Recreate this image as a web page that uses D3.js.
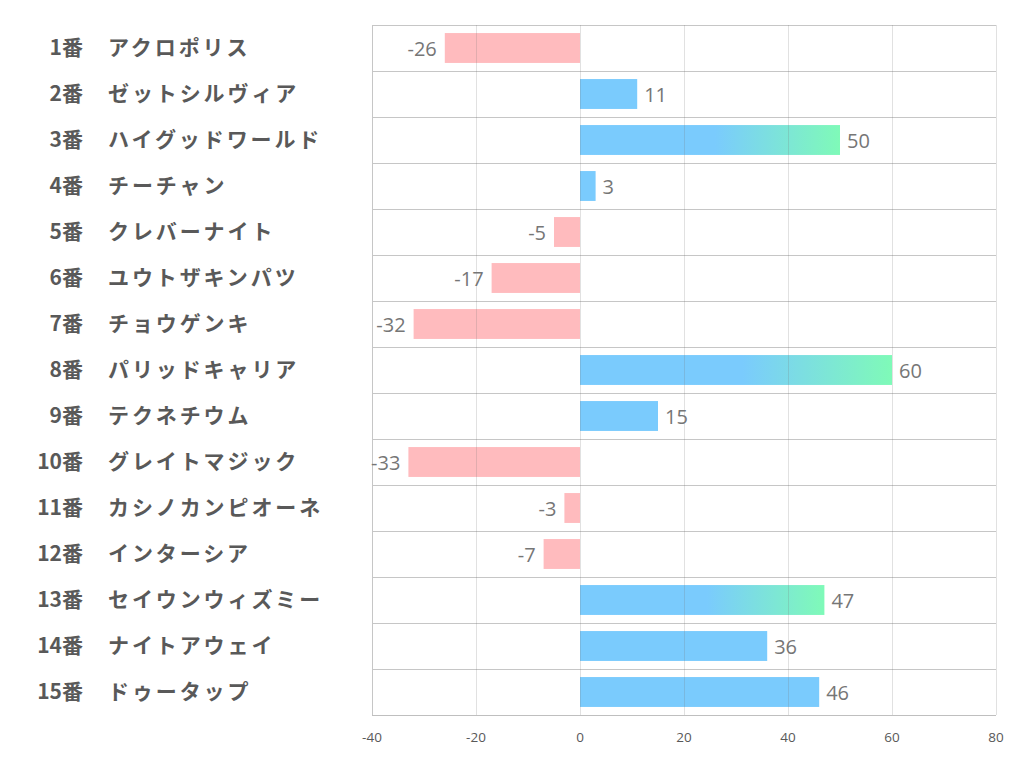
<!DOCTYPE html>
<html><head><meta charset="utf-8">
<script src="https://cdn.jsdelivr.net/npm/d3@7"></script>
<style>body{margin:0;background:#fff;}svg{display:block;}</style>
</head><body>
<script>
const numbers = ["1番","2番","3番","4番","5番","6番","7番","8番","9番","10番","11番","12番","13番","14番","15番"];
const names = ["アクロポリス","ゼットシルヴィア","ハイグッドワールド","チーチャン","クレバーナイト","ユウトザキンパツ","チョウゲンキ","パリッドキャリア","テクネチウム","グレイトマジック","カシノカンピオーネ","インターシア","セイウンウィズミー","ナイトアウェイ","ドゥータップ"];
const values = [-26,11,50,3,-5,-17,-32,60,15,-33,-3,-7,47,36,46];
const ticks = [-40,-20,0,20,40,60,80];
const gradThreshold = 47;

const W=1022,H=782;
const svg=d3.select("body").append("svg").attr("width",W).attr("height",H);
const x=d3.scaleLinear().domain([-40,80]).range([372,996]);
const y=d3.scaleBand().domain(d3.range(values.length)).range([25,715]).paddingInner(0.35).paddingOuter(0.175);
const rowStep=(715-25)/values.length;

const defs=svg.append("defs");
const lg=defs.append("linearGradient").attr("id","gr").attr("x1","0").attr("x2","1").attr("y1","0").attr("y2","0");
lg.append("stop").attr("offset","0.52").attr("stop-color","#7acbfd");
lg.append("stop").attr("offset","1").attr("stop-color","#7ffab8");

// horizontal grid
svg.append("g").selectAll("line").data(d3.range(values.length+1)).join("line")
 .attr("x1",372).attr("x2",996)
 .attr("y1",i=>25+i*rowStep+0.5).attr("y2",i=>25+i*rowStep+0.5)
 .attr("stroke","#c6c6c6").attr("stroke-width",1);

// bars
svg.append("g").selectAll("rect").data(values).join("rect")
 .attr("x",d=>x(Math.min(0,d)))
 .attr("width",d=>Math.abs(x(d)-x(0)))
 .attr("y",(d,i)=>y(i)).attr("height",y.bandwidth())
 .attr("fill",d=>d<0?"#ffbbbe":(d>=gradThreshold?"url(#gr)":"#7acbfd"));

// vertical grid (drawn faintly over bars)
svg.append("g").selectAll("line").data(ticks).join("line")
 .attr("x1",d=>Math.round(x(d))+0.5).attr("x2",d=>Math.round(x(d))+0.5)
 .attr("y1",25).attr("y2",715)
 .attr("stroke",d=>(d===-40)?"#c6c6c6":"rgba(120,120,120,0.22)").attr("stroke-width",1);

// bottom axis line
svg.append("line").attr("x1",372).attr("x2",996).attr("y1",715.5).attr("y2",715.5).attr("stroke","#bfbfbf");

// tick labels
svg.append("g").selectAll("text").data(ticks).join("text")
 .attr("x",d=>x(d)).attr("y",742).attr("text-anchor","middle")
 .attr("font-family","'Open Sans','Noto Sans',sans-serif").attr("font-size",13.5).attr("fill","#595959")
 .text(d=>d);

// value labels
svg.append("g").selectAll("text").data(values).join("text")
 .attr("x",d=>d<0?x(d)-8:x(d)+7)
 .attr("y",(d,i)=>y(i)+y.bandwidth()/2+8)
 .attr("text-anchor",d=>d<0?"end":"start")
 .attr("font-family","'Open Sans','Noto Sans',sans-serif").attr("font-size",20).attr("fill","#767676")
 .text(d=>d);

// row labels
const lab=svg.append("g").attr("font-family","'Noto Sans CJK JP',sans-serif").attr("font-weight","bold").attr("font-size",21).attr("fill","#595959");
lab.selectAll("text.n").data(numbers).join("text").attr("class","n")
 .attr("x",83).attr("y",(d,i)=>y(i)+y.bandwidth()/2+7).attr("text-anchor","end").text(d=>d);
lab.selectAll("text.m").data(names).join("text").attr("class","m")
 .attr("x",108).attr("y",(d,i)=>y(i)+y.bandwidth()/2+7).attr("letter-spacing","2.9px").text(d=>d);
</script>
</body></html>
